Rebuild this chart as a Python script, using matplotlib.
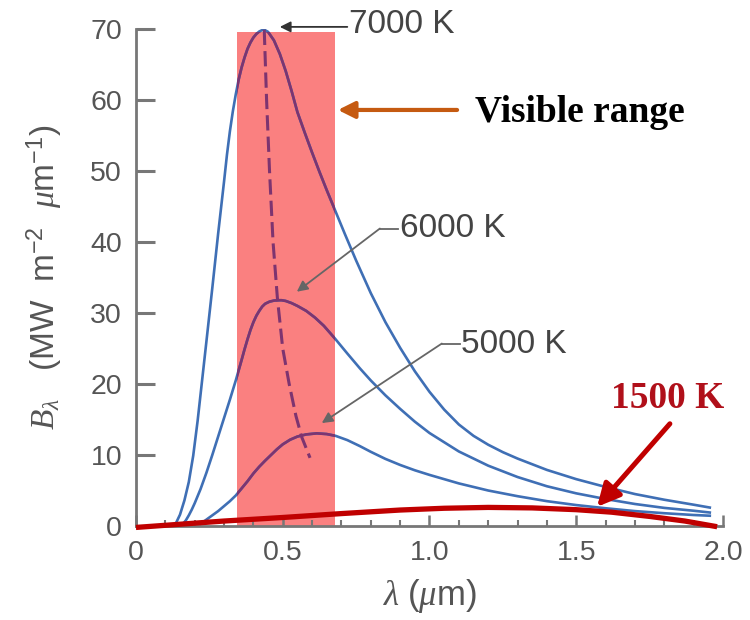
import matplotlib
matplotlib.use('Agg')
import matplotlib.pyplot as plt
from matplotlib.patches import Rectangle
from matplotlib.ticker import MultipleLocator

plt.rcParams['font.family'] = ['Liberation Sans', 'DejaVu Sans']
plt.rcParams['mathtext.fontset'] = 'custom'
plt.rcParams['mathtext.rm'] = 'Liberation Sans'
plt.rcParams['mathtext.it'] = 'Liberation Serif:italic'

# curves (wavelength in um, B in MW m-2 um-1)
lam_7000 = [0.135, 0.15, 0.165, 0.18, 0.195, 0.21, 0.225, 0.24, 0.26, 0.28, 0.30, 0.31, 0.32,
            0.33, 0.34, 0.35, 0.36, 0.37, 0.38, 0.39, 0.40, 0.41, 0.42, 0.43, 0.437, 0.45,
            0.47, 0.49, 0.51, 0.53, 0.55, 0.575, 0.60, 0.625, 0.65, 0.678, 0.712, 0.75,
            0.80, 0.85, 0.90, 0.95, 1.00, 1.05, 1.10, 1.15, 1.20, 1.25, 1.30, 1.40, 1.50,
            1.60, 1.70, 1.80, 1.90, 1.955]
b_7000 = [0.3, 1.6, 3.6, 6.2, 9.9, 14.8, 20.4, 26.0, 33.5, 41.2, 48.5, 52.3, 55.6,
          58.4, 60.8, 62.9, 64.6, 66.0, 67.2, 68.1, 68.8, 69.3, 69.65, 69.85, 69.9, 69.6,
          68.4, 66.5, 64.1, 61.3, 58.3, 55.4, 52.6, 49.9, 47.3, 44.5, 41.1, 37.4,
          32.8, 28.7, 25.1, 21.8, 18.9, 16.4, 14.3, 12.7, 11.45, 10.4, 9.5, 7.9, 6.6,
          5.5, 4.5, 3.7, 3.0, 2.6]

lam_6000 = [0.16, 0.17, 0.18, 0.19, 0.20, 0.22, 0.24, 0.26, 0.28, 0.30, 0.32, 0.34, 0.36,
            0.37, 0.38, 0.39, 0.40, 0.41, 0.42, 0.43, 0.44, 0.455, 0.47, 0.485, 0.496,
            0.51, 0.53, 0.55, 0.58, 0.61, 0.64, 0.678, 0.72, 0.763, 0.80, 0.85, 0.90,
            0.95, 1.00, 1.10, 1.20, 1.30, 1.40, 1.50, 1.60, 1.70, 1.80, 1.90, 1.955]
b_6000 = [0.3, 0.8, 1.5, 2.3, 3.2, 5.2, 7.5, 10.0, 12.6, 15.2, 17.8, 20.5, 23.4,
          24.9, 26.3, 27.6, 28.7, 29.6, 30.3, 30.9, 31.3, 31.6, 31.75, 31.8, 31.8,
          31.7, 31.4, 31.0, 30.3, 29.35, 28.2, 26.4, 24.3, 22.2, 20.5, 18.4, 16.5,
          14.7, 13.1, 10.5, 8.5, 6.9, 5.6, 4.6, 3.8, 3.1, 2.55, 2.15, 1.9]

lam_5000 = [0.22, 0.24, 0.26, 0.28, 0.30, 0.32, 0.34, 0.36, 0.38, 0.40, 0.42, 0.44, 0.46,
            0.48, 0.50, 0.525, 0.55, 0.58, 0.616, 0.65, 0.68, 0.72, 0.763, 0.80, 0.85,
            0.90, 0.95, 1.00, 1.10, 1.20, 1.30, 1.40, 1.50, 1.60, 1.70, 1.80, 1.90, 1.955]
b_5000 = [0.3, 0.9, 1.5, 2.1, 2.8, 3.5, 4.3, 5.3, 6.3, 7.4, 8.35, 9.2, 10.0,
          10.8, 11.5, 12.15, 12.6, 12.9, 13.05, 12.95, 12.7, 12.1, 11.25, 10.45, 9.45,
          8.6, 7.85, 7.2, 6.0, 5.0, 4.2, 3.5, 2.95, 2.5, 2.1, 1.8, 1.55, 1.45]

lam_1500 = [0.0, 0.15, 0.3, 0.5, 0.7, 0.9, 1.05, 1.2, 1.35, 1.5, 1.62, 1.75, 1.87, 1.98]
b_1500 = [-0.2, 0.25, 0.7, 1.2, 1.75, 2.25, 2.5, 2.62, 2.55, 2.3, 1.95, 1.35, 0.7, -0.1]

# Wien displacement (dashed)
lam_wien = [0.437, 0.445, 0.455, 0.467, 0.482, 0.50, 0.522, 0.545, 0.565, 0.593]
b_wien = [69.9, 60.0, 50.0, 40.0, 32.0, 25.0, 20.0, 15.5, 12.5, 9.6]

vis_lo, vis_hi, vis_top = 0.345, 0.678, 69.6

blue = '#3f6fb5'
purple = '#7d3470'
grey = '#555555'

fig = plt.figure(figsize=(7.5, 6.2), dpi=100)
ax = fig.add_axes([0.1813, 0.1516, 0.7827, 0.8016])

rect = Rectangle((vis_lo, 0), vis_hi - vis_lo, vis_top, facecolor='#fa8080',
                 edgecolor='none', zorder=1)
ax.add_patch(rect)

for lam, b in [(lam_7000, b_7000), (lam_6000, b_6000), (lam_5000, b_5000)]:
    ax.plot(lam, b, color=blue, lw=1.9, zorder=2, solid_joinstyle='round')
    inner, = ax.plot(lam, b, color=purple, lw=1.9, zorder=3, solid_joinstyle='round')
    inner.set_clip_path(rect)

ax.plot(lam_wien, b_wien, color=purple, lw=2.2, ls=(0, (5, 2)), zorder=3)

ax.plot(lam_1500, b_1500, color='#c00000', lw=3.8, zorder=5, clip_on=False,
        solid_capstyle='butt', solid_joinstyle='round')

# annotations
ax.annotate('', xy=(0.49, 70.3), xytext=(0.72, 70.3), annotation_clip=False,
            arrowprops=dict(arrowstyle='-|>', color='#333333', lw=1.3,
                            mutation_scale=16, shrinkA=0, shrinkB=0))
ax.text(0.726, 70.6, '7000 K', fontsize=24, color='#444444', va='center', ha='left')

ax.plot([0.893, 0.831], [41.9, 41.9], color='#666666', lw=1.3, zorder=2)
ax.annotate('', xy=(0.548, 33.0), xytext=(0.831, 41.9),
            arrowprops=dict(arrowstyle='-|>', color='#666666', lw=1.3,
                            mutation_scale=16, shrinkA=0, shrinkB=0), zorder=2)
ax.text(0.90, 41.9, '6000 K', fontsize=24, color='#444444', va='center', ha='left')

ax.plot([1.104, 1.042], [25.7, 25.7], color='#666666', lw=1.3, zorder=2)
ax.annotate('', xy=(0.633, 14.5), xytext=(1.042, 25.7),
            arrowprops=dict(arrowstyle='-|>', color='#666666', lw=1.3,
                            mutation_scale=16, shrinkA=0, shrinkB=0), zorder=2)
ax.text(1.108, 25.6, '5000 K', fontsize=24, color='#444444', va='center', ha='left')

ax.annotate('', xy=(0.688, 58.6), xytext=(1.094, 58.6),
            arrowprops=dict(arrowstyle='-|>', color='#c55a11', lw=3,
                            mutation_scale=25, shrinkA=0, shrinkB=0))
ax.text(1.155, 58.2, 'Visible range', fontsize=27, fontweight='bold',
        family='Liberation Serif', color='black', va='center', ha='left')

ax.annotate('', xy=(1.571, 2.7), xytext=(1.819, 14.4),
            arrowprops=dict(arrowstyle='-|>', color='#c00000', lw=3.6,
                            mutation_scale=34, shrinkA=0, shrinkB=0), zorder=6)
ax.text(1.62, 17.9, '1500 K', fontsize=27, fontweight='bold',
        family='Liberation Serif', color='#b0101a', va='center', ha='left')

# axes styling
ax.set_xlim(0, 2.0)
ax.set_ylim(0, 70)
for s in ['top', 'right']:
    ax.spines[s].set_visible(False)
for s in ['left', 'bottom']:
    ax.spines[s].set_color('#777777')
    ax.spines[s].set_linewidth(2)
ax.set_xticks([0, 0.5, 1.0, 1.5, 2.0])
ax.set_xticklabels(['0', '0.5', '1.0', '1.5', '2.0'])
ax.xaxis.set_minor_locator(MultipleLocator(0.1))
ax.set_yticks(range(0, 71, 10))
ax.tick_params(axis='y', direction='in', length=14, width=2.2, color='#777777',
               labelsize=20.5, labelcolor=grey, pad=10)
ax.tick_params(axis='x', which='major', direction='in', length=8, width=1.8,
               color='#777777', labelsize=20.5, labelcolor=grey, pad=10)
ax.tick_params(axis='x', which='minor', direction='in', length=4, width=1.5,
               color='#777777')

ax.set_ylabel(r'$B_{\lambda}$   (MW  m$^{-2}$  $\mu$m$^{-1}$)', fontsize=24, color=grey,
              labelpad=18)
ax.set_xlabel(r'$\lambda\ (\mu$m$)$', fontsize=25, color=grey, labelpad=8)

fig.savefig('out.png', dpi=100)
